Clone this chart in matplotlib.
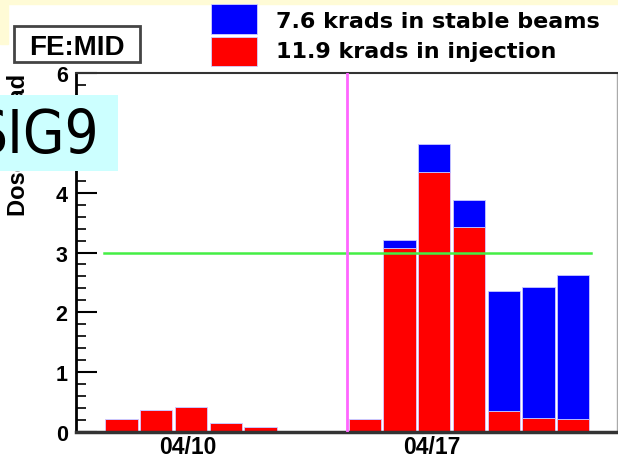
import datetime as dt
import matplotlib
matplotlib.use('Agg')
import matplotlib.pyplot as plt
import matplotlib.dates as mdates
from matplotlib.patches import Rectangle
from matplotlib.ticker import MultipleLocator

# daily dose bins (krad), bins start 04/07 14:00
bin_start = '2012-04-07 14:00'
injection = [0.22, 0.36, 0.41, 0.15, 0.09, 0.02, 0.02, 0.21, 3.08, 4.35, 3.43, 0.35, 0.23, 0.22]
stable = [0, 0, 0, 0, 0, 0, 0, 0, 0.13, 0.46, 0.45, 2.00, 2.20, 2.41]
tick_dates = ['2012-04-10', '2012-04-17']
limit = 3.0
marker_bin = 7
legend_labels = ['7.6 krads in stable beams', '11.9 krads in injection']

plt.rcParams['font.family'] = ['Liberation Sans', 'DejaVu Sans']
W, H = 618, 460

def fx(x):
    return x / W

def fy(y):
    return 1 - y / H

t0 = dt.datetime.fromisoformat(bin_start)
starts = [t0 + dt.timedelta(days=i) for i in range(len(injection))]
centers = [mdates.date2num(s + dt.timedelta(hours=12)) for s in starts]
x0 = mdates.date2num(t0)

fig = plt.figure(figsize=(W / 100, H / 100), dpi=100)
ax = fig.add_axes([fx(76), fy(433), (617 - 76) / W, (433 - 74) / H])

ax.bar(centers, injection, width=0.93, color='#ff0000', edgecolor='#d8c8ff', linewidth=0.6, zorder=2)
ax.bar(centers, stable, width=0.93, bottom=injection, color='#0000ff', edgecolor='#c8c8ff', linewidth=0.6, zorder=2)

ax.plot([x0, x0 + len(injection)], [limit, limit], color='#44ee44', lw=1.8, zorder=3)
ax.axvline(x0 + marker_bin, color='#ff66ff', lw=2, zorder=3)

ax.set_xlim(x0 - 0.81, x0 + 14.76)
ax.set_ylim(0, 6)

ax.set_xticks([mdates.date2num(dt.datetime.fromisoformat(d)) for d in tick_dates])
ax.xaxis.set_major_formatter(mdates.DateFormatter('%m/%d'))
ax.tick_params(axis='x', length=0, pad=2, labelsize=16.5)
ax.yaxis.set_major_locator(MultipleLocator(1))
ax.yaxis.set_minor_locator(MultipleLocator(0.2))
ax.tick_params(axis='y', which='major', direction='in', length=15, width=1.5, pad=6, labelsize=15.5)
ax.tick_params(axis='y', which='minor', direction='in', length=7, width=1.2)
for lab in ax.get_xticklabels() + ax.get_yticklabels():
    lab.set_fontweight('bold')

ax.spines['left'].set_linewidth(2)
ax.spines['bottom'].set_linewidth(2.5)
ax.spines['bottom'].set_color('#333333')
ax.spines['top'].set_linewidth(1.5)
ax.spines['top'].set_color('#333333')
ax.spines['right'].set_linewidth(1)
ax.spines['right'].set_color('#aaaaaa')

fig.text(fx(19), fy(145), 'Dose in krad', rotation=90, ha='center', va='center',
         fontsize=17, fontweight='bold')

# slide background strips
fig.patches.append(Rectangle((0, fy(5)), 1, 5 / H, transform=fig.transFigure,
                             color='#fffbd6', zorder=0))
fig.patches.append(Rectangle((0, fy(45)), fx(8), 40 / H, transform=fig.transFigure,
                             color='#fffbd6', zorder=0))

# legend
for (y1, y2), col, lab, base in zip([(5, 35), (38, 67)], ['#0000ff', '#ff0000'],
                                   legend_labels, [28, 58]):
    fig.patches.append(Rectangle((fx(211), fy(y2)), fx(257) - fx(211), (y2 - y1) / H,
                                 transform=fig.transFigure, facecolor=col,
                                 edgecolor='#d0d0ff', lw=0.6))
    fig.text(fx(276), fy(base), lab, ha='left', va='baseline', fontsize=16,
             fontweight='bold', family='DejaVu Sans')

# FE:MID box
fig.patches.append(Rectangle((fx(14), fy(63)), fx(140) - fx(14), 36 / H,
                             transform=fig.transFigure, facecolor='white',
                             edgecolor='#444444', lw=2))
fig.text(fx(77), fy(55), 'FE:MID', ha='center', va='baseline', fontsize=20, fontweight='bold')

# SIG9 overlay
fig.patches.append(Rectangle((0, fy(172)), fx(118), 76 / H, transform=fig.transFigure,
                             facecolor='#ccffff', edgecolor='none', zorder=5))
fig.text(fx(99), fy(153), 'SIG9', ha='right', va='baseline', fontsize=43,
         family=['Liberation Sans Narrow', 'DejaVu Sans'], fontstretch='condensed', zorder=6)

plt.savefig('out.png', dpi=100)
